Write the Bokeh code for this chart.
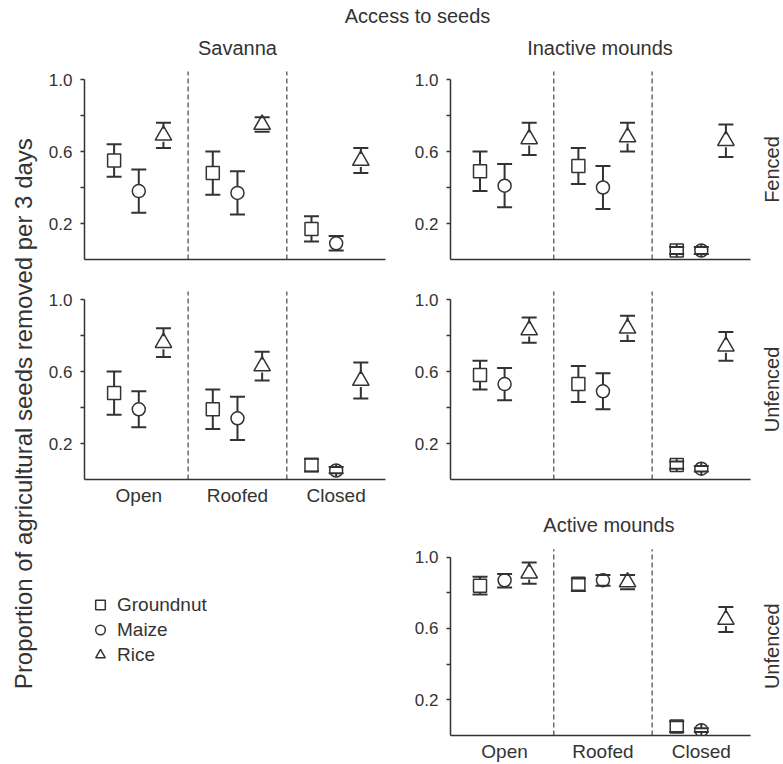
import math
import numpy as np
from bokeh.plotting import figure
from bokeh.models import (Range1d, FixedTicker, Whisker, TeeHead, PrintfTickFormatter,
                          ColumnDataSource, Label, Legend, LegendItem)
from bokeh.layouts import column, row
from bokeh.embed import file_html
from bokeh.resources import INLINE

# ---------------- data ----------------
ACCESS = ["Open", "Roofed", "Closed"]
CROPS = ["Groundnut", "Maize", "Rice"]
Y_TICKS = [0.2, 0.6, 1.0]
Y_MINOR_TICKS = [0.4, 0.8]

TITLE = "Access to seeds"
Y_LABEL = "Proportion of agricultural seeds removed per 3 days"

# rows: Groundnut, Maize, Rice ; columns: Open, Roofed, Closed
sav_fen_mean = [[0.55, 0.48, 0.17], [0.38, 0.37, 0.09], [0.69, 0.75, 0.55]]
sav_fen_lo = [[0.46, 0.36, 0.10], [0.26, 0.25, 0.05], [0.62, 0.71, 0.48]]
sav_fen_hi = [[0.64, 0.60, 0.24], [0.50, 0.49, 0.13], [0.76, 0.79, 0.62]]

ina_fen_mean = [[0.49, 0.52, 0.05], [0.41, 0.40, 0.05], [0.67, 0.68, 0.66]]
ina_fen_lo = [[0.38, 0.42, 0.03], [0.29, 0.28, 0.03], [0.58, 0.60, 0.57]]
ina_fen_hi = [[0.60, 0.62, 0.07], [0.53, 0.52, 0.07], [0.76, 0.76, 0.75]]

sav_unf_mean = [[0.48, 0.39, 0.08], [0.39, 0.34, 0.05], [0.76, 0.63, 0.55]]
sav_unf_lo = [[0.36, 0.28, 0.045], [0.29, 0.22, 0.035], [0.68, 0.55, 0.45]]
sav_unf_hi = [[0.60, 0.50, 0.115], [0.49, 0.46, 0.07], [0.84, 0.71, 0.65]]

ina_unf_mean = [[0.58, 0.53, 0.08], [0.53, 0.49, 0.06], [0.83, 0.84, 0.74]]
ina_unf_lo = [[0.50, 0.43, 0.06], [0.44, 0.39, 0.045], [0.76, 0.77, 0.66]]
ina_unf_hi = [[0.66, 0.63, 0.10], [0.62, 0.59, 0.075], [0.90, 0.91, 0.82]]

act_unf_mean = [[0.84, 0.85, 0.05], [0.87, 0.87, 0.03], [0.91, 0.86, 0.65]]
act_unf_lo = [[0.79, 0.81, 0.02], [0.83, 0.84, 0.02], [0.85, 0.82, 0.58]]
act_unf_hi = [[0.89, 0.88, 0.08], [0.905, 0.90, 0.04], [0.97, 0.90, 0.72]]

# ---------------- style ----------------
FONT = "Liberation Sans"
INK = "#333333"
MARKER = {"Groundnut": "square", "Maize": "circle", "Rice": "triangle"}
MSIZE = {"Groundnut": 13, "Maize": 13, "Rice": 16.5}
XOFF = {"Groundnut": 0.25, "Maize": 0.5, "Rice": 0.75}
X_START = -0.05
PX_PER_UNIT = 180.0          # vertical pixels per proportion unit
DASH_TOP = 188 / PX_PER_UNIT  # dashed separators reach a little above 1.0
GAP = 6.5 / PX_PER_UNIT       # error bars start at the marker edge


def panel(mean, lo, hi, width, height, left, bottom, data_w, title=None, title_dx=0,
          xlabels=False, side=None):
    n = len(ACCESS)
    px_x = data_w / (n - X_START)
    frame_w = width - left
    frame_h = height - bottom
    x_end = X_START + frame_w / px_x
    y_end = frame_h / PX_PER_UNIT
    p = figure(width=width, height=height, output_backend="svg", toolbar_location=None,
               x_range=Range1d(X_START, x_end), y_range=Range1d(0, y_end),
               min_border_left=left, min_border_right=0,
               min_border_top=0, min_border_bottom=bottom, title=None)
    p.outline_line_color = None
    p.xgrid.visible = False
    p.ygrid.visible = False

    seps = list(range(1, n))
    p.segment(x0=seps, y0=[0] * len(seps), x1=seps, y1=[DASH_TOP] * len(seps),
              line_color="#555555", line_dash="5 3", line_width=1.3)

    for k, crop in enumerate(CROPS):
        xs = [i + XOFF[crop] for i in range(n)]
        m = mean[k]
        src = ColumnDataSource(dict(x=xs, m=m, lo=lo[k], hi=hi[k],
                                    up=[v + GAP for v in m], dn=[v - GAP for v in m]))
        p.segment(x0="x", y0="up", x1="x", y1="hi", source=src, line_color=INK, line_width=2)
        p.segment(x0="x", y0="dn", x1="x", y1="lo", source=src, line_color=INK, line_width=2)
        p.add_layout(Whisker(source=src, base="x", upper="hi", lower="lo", line_alpha=0,
                             upper_head=TeeHead(size=15, line_color=INK, line_width=2),
                             lower_head=TeeHead(size=15, line_color=INK, line_width=2)))
        p.scatter(x="x", y="m", source=src, marker=MARKER[crop], size=MSIZE[crop],
                  fill_color=None, line_color=INK, line_width=1.5)

    yax = p.yaxis[0]
    yax.ticker = FixedTicker(ticks=Y_TICKS, minor_ticks=Y_MINOR_TICKS)
    yax.formatter = PrintfTickFormatter(format="%.1f")
    yax.bounds = (0, 1.0)
    yax.axis_line_color = INK
    yax.axis_line_width = 1.5
    yax.major_tick_line_color = INK
    yax.major_tick_line_width = 1.3
    yax.major_tick_out = 4
    yax.major_tick_in = 0
    yax.minor_tick_line_color = INK
    yax.minor_tick_line_width = 1.3
    yax.minor_tick_out = 4
    yax.minor_tick_in = 0
    yax.major_label_text_font = FONT
    yax.major_label_text_font_size = "17px"
    yax.major_label_text_color = INK
    yax.major_label_standoff = 8

    xax = p.xaxis[0]
    xax.ticker = FixedTicker(ticks=[i + 0.5 for i in range(n)] if xlabels else [],
                             minor_ticks=[])
    xax.major_label_overrides = {i + 0.5: a for i, a in enumerate(ACCESS)}
    xax.bounds = (X_START, n)
    xax.major_tick_out = 0
    xax.major_tick_in = 0
    xax.minor_tick_out = 0
    xax.minor_tick_in = 0
    xax.axis_line_color = INK
    xax.axis_line_width = 1.5
    xax.major_label_text_font = FONT
    xax.major_label_text_font_size = "19px"
    xax.major_label_text_color = INK
    xax.major_label_standoff = 5

    if title:
        p.add_layout(Label(x=n / 2, y=1.0, x_offset=title_dx, y_offset=32, text=title,
                           text_align="center", text_baseline="alphabetic",
                           text_font=FONT, text_font_size="20px", text_color=INK))
    if side:
        p.add_layout(Label(x=n, y=0.5, x_offset=21.5, text=side, angle=math.pi / 2,
                           text_align="center", text_baseline="middle",
                           text_font=FONT, text_font_size="20px", text_color=INK))
    return p


def blank(width, height, **borders):
    f = figure(width=width, height=height, output_backend="svg", toolbar_location=None,
               x_axis_type=None, y_axis_type=None, title=None,
               x_range=Range1d(0, 1), y_range=Range1d(0, 1), **borders)
    f.outline_line_color = None
    return f


W = 45
header = blank(783, 30, min_border_left=84, min_border_right=33, min_border_top=0, min_border_bottom=0)
header.add_layout(Label(x=0.5, y=0.5, text=TITLE, text_align="center", text_baseline="middle",
                        text_font=FONT, text_font_size="20px", text_color=INK))

ylab = blank(W, 734, min_border=0)
ylab.add_layout(Label(x=0.5, y=0.478, text=Y_LABEL, angle=math.pi / 2, text_align="center",
                      text_baseline="middle", text_font=FONT, text_font_size="24px", text_color=INK))

sf = panel(sav_fen_mean, sav_fen_lo, sav_fen_hi, 400 - W, 249, 84 - W, 20, 301, title="Savanna")
inf = panel(ina_fen_mean, ina_fen_lo, ina_fen_hi, 383, 249, 50, 20, 300,
            title="Inactive mounds", title_dx=-3, side="Fenced")
su = panel(sav_unf_mean, sav_unf_lo, sav_unf_hi, 400 - W, 231, 84 - W, 31, 301, xlabels=True)
iu = panel(ina_unf_mean, ina_unf_lo, ina_unf_hi, 383, 231, 50, 31, 300, side="Unfenced")
au = panel(act_unf_mean, act_unf_lo, act_unf_hi, 383, 254, 50, 27, 300, title="Active mounds",
           title_dx=6, xlabels=True, side="Unfenced")

leg_fig = figure(width=400 - W, height=254, output_backend="svg", toolbar_location=None,
                 x_axis_type=None, y_axis_type=None, title=None,
                 x_range=Range1d(0, 1), y_range=Range1d(0, 1),
                 min_border_left=84 - W, min_border_top=0, min_border_right=0, min_border_bottom=27)
leg_fig.outline_line_color = None
items = []
for crop in CROPS:
    r = leg_fig.scatter(x=np.array([np.nan]), y=np.array([np.nan]), marker=MARKER[crop],
                        size=MSIZE[crop], fill_color=None, line_color=INK, line_width=1.5)
    items.append(LegendItem(label=crop, renderers=[r]))
legend = Legend(items=items, location=(4, 68), margin=0, padding=0, spacing=0,
                glyph_width=24, glyph_height=25, label_height=25, label_standoff=5,
                label_text_font=FONT, label_text_font_size="19px", label_text_color=INK,
                border_line_color=None, background_fill_alpha=0)
leg_fig.add_layout(legend)

layout = column(header, row(ylab, column(row(sf, inf), row(su, iu), row(leg_fig, au))))

open("out.html", "w").write(file_html(layout, INLINE))
